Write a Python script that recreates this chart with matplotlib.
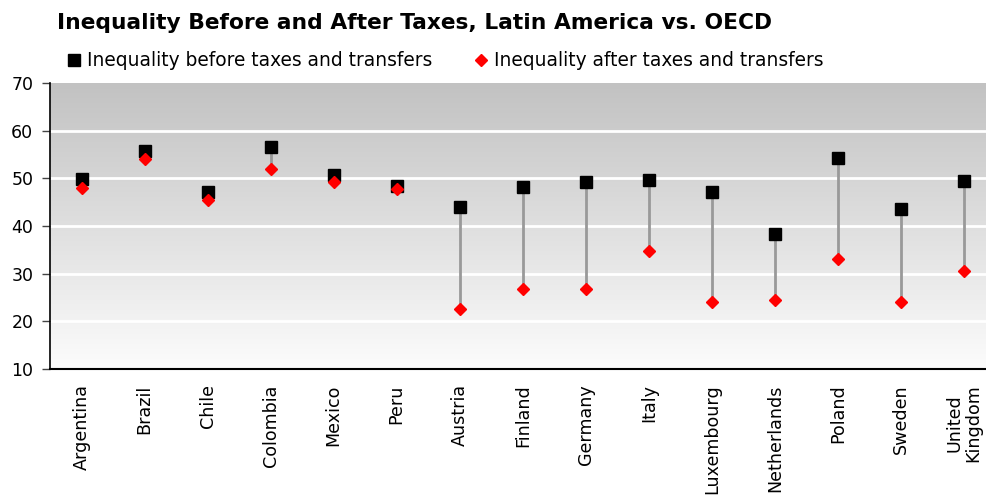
import numpy as np
import matplotlib.pyplot as plt
from matplotlib.colors import LinearSegmentedColormap

countries = ["Argentina", "Brazil", "Chile", "Colombia", "Mexico", "Peru",
             "Austria", "Finland", "Germany", "Italy", "Luxembourg",
             "Netherlands", "Poland", "Sweden", "United\nKingdom"]
before = [49.8, 55.8, 47.2, 56.5, 50.7, 48.3, 44.0, 48.1, 49.3, 49.7,
          47.2, 38.4, 54.3, 43.5, 49.5]
after = [47.9, 54.1, 45.5, 52.0, 49.3, 47.8, 22.5, 26.8, 26.7, 34.8,
         24.1, 24.5, 33.1, 24.1, 30.5]
yticks = [10, 20, 30, 40, 50, 60, 70]

plt.rcParams['font.family'] = 'DejaVu Sans'

fig = plt.figure(figsize=(9.86, 4.98), dpi=100)
ax = fig.add_axes([50 / 986, 129 / 498, 945.5 / 986, 286 / 498])

x = np.arange(len(countries))

# gradient background, grey at top fading to near white
grad = np.linspace(1, 0, 256).reshape(-1, 1)
cmap = LinearSegmentedColormap.from_list("bg", ["#fcfcfc", "#c2c2c2"])
ax.imshow(grad, cmap=cmap, aspect="auto", extent=(-0.5, len(countries) - 0.5, 10, 70),
          origin="upper", zorder=0)

for y in yticks[1:-1]:
    ax.axhline(y, color="white", lw=2, zorder=1)

ax.vlines(x, after, before, color="#999999", lw=2, zorder=2)
ax.plot(x, before, ls="none", marker="s", ms=8.4, color="black",
        label="Inequality before taxes and transfers", zorder=3)
ax.plot(x, after, ls="none", marker="D", ms=5.8, color="#ff0000",
        label="Inequality after taxes and transfers", zorder=4)

ax.set_xlim(-0.5, len(countries) - 0.5)
ax.set_ylim(10, 70)
ax.set_yticks(yticks)
ax.set_xticks(x)
ax.set_xticklabels(countries, rotation=90, fontsize=12.6, va="top", ha="center",
                   linespacing=1.0)
ax.tick_params(axis="x", length=0, pad=11)
ax.tick_params(axis="y", length=6, width=1, color="#444444", labelsize=12.5, pad=6)

for s in ["top", "right"]:
    ax.spines[s].set_visible(False)
ax.spines["left"].set_linewidth(1.2)
ax.spines["bottom"].set_linewidth(1.5)

fig.text(57 / 986, 1 - 23 / 498, "Inequality Before and After Taxes, Latin America vs. OECD",
         fontsize=15.7, fontweight="bold", va="center", ha="left")

ax.legend(loc="center left", bbox_to_anchor=(66 / 986, 1 - 61 / 498),
          bbox_transform=fig.transFigure, ncol=2, frameon=False, fontsize=13.4,
          handlelength=0.85, handletextpad=0.3, columnspacing=2.17, borderpad=0,
          borderaxespad=0, markerscale=1.1)

fig.savefig("out.png", dpi=100)
